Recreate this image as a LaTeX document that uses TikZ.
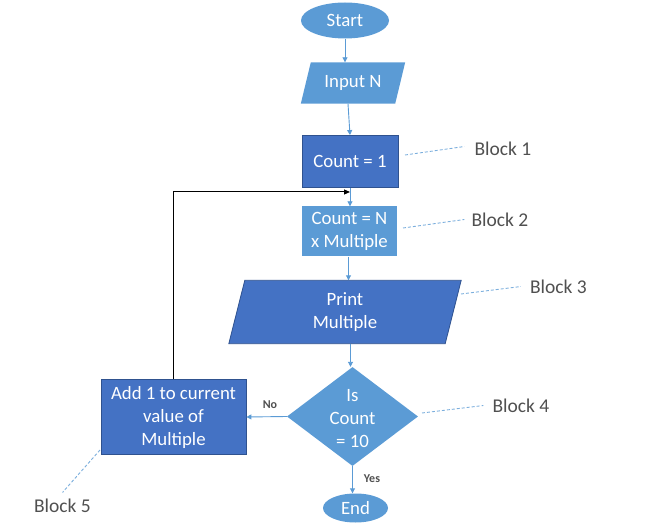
\documentclass[tikz,border=0pt]{standalone}
\usepackage{fontspec}
\setmainfont{Carlito}
\usetikzlibrary{arrows.meta,shapes.geometric,backgrounds}
\definecolor{lblue}{HTML}{5B9BD5}
\definecolor{dblue}{HTML}{4472C4}
\definecolor{bord}{HTML}{2F528F}
\definecolor{lbltext}{HTML}{505050}
\begin{document}
\begin{tikzpicture}[x=1pt,y=-1pt,
  txt/.style={text=white,font=\fontsize{18.8}{23}\selectfont,align=center,inner sep=0pt},
  darkbox/.style={txt,rectangle,fill=dblue,draw=bord,line width=0.8pt},
  term/.style={txt,ellipse,fill=lblue},
  conn/.style={draw=lblue,line width=0.9pt,-{Triangle[length=5pt,width=5pt]}},
  loopline/.style={draw=black,line width=1pt,-{Triangle[length=6pt,width=5pt]}},
  callout/.style={draw=lblue!80,dashed,dash pattern=on 3pt off 2pt,line width=0.9pt},
  blocklbl/.style={text=lbltext,font=\fontsize{19.5}{21}\selectfont,inner sep=0pt},
  yn/.style={text=lbltext,font=\fontsize{12}{13}\selectfont\bfseries,inner sep=0pt}
]
\useasboundingbox (0,0) rectangle (646,532);
% nodes
\node[term,minimum width=88pt,minimum height=36pt] (start) at (345,20.5) {Start};
\node[txt,minimum width=104pt,minimum height=41pt] (input) at (353,83) {Input N};
\node[darkbox,minimum width=96pt,minimum height=52pt] (count) at (350,161.5) {Count = 1};
\node[txt,rectangle,fill=lblue,minimum width=95pt,minimum height=50pt] (countn) at (349.5,231.5) {Count = N\\x Multiple};
\node[txt,minimum width=232pt,minimum height=63pt] (print) at (345,312) {Print\\Multiple};
\node[diamond,fill=lblue,inner sep=0pt,minimum width=131pt,minimum height=99pt] (dec) at (352.5,416.5) {};
\node[txt] (dectext) at (352.5,418.5) {Is\\Count\\= 10};
\node[darkbox,minimum width=145pt,minimum height=75pt] (add) at (173.5,417) {Add 1 to current\\value of\\Multiple};
\node[term,minimum width=65pt,minimum height=29pt] (end) at (355.5,508) {End};
% parallelogram bodies
\begin{scope}[on background layer]
\fill[lblue] ([xshift=10pt]input.north west) -- (input.north east) -- ([xshift=-10pt]input.south east) -- (input.south west) -- cycle;
\filldraw[fill=dblue,draw=bord,line width=0.8pt] ([xshift=16pt]print.north west) -- (print.north east) -- ([xshift=-16pt]print.south east) -- (print.south west) -- cycle;
\end{scope}
% labels
\node[blocklbl] (b1) at (503,148.5) {Block 1};
\node[blocklbl] (b2) at (500,219.5) {Block 2};
\node[blocklbl] (b3) at (558.5,286.5) {Block 3};
\node[blocklbl] (b4) at (521,405.5) {Block 4};
\node[blocklbl] (b5) at (62.5,505.5) {Block 5};
\node[yn] (no) at (270,404.5) {No};
\node[yn] (yes) at (372,479) {Yes};
% connectors
\draw[conn] (start.south) -- (start.south |- input.north);
\draw[conn] ([xshift=-2pt]count.north |- input.south) -- (count.north);
\draw[conn] (count.south) -- (count.south |- countn.north);
\draw[conn] ([xshift=-1pt]countn.south) -- ([xshift=-1pt]countn.south |- print.north);
\draw[conn] ([xshift=-2pt]dec.north |- print.south) -- ([xshift=-2pt]dec.north);
\draw[conn] (dec.west) -- (add.east);
\draw[conn] (dec.south) -- (dec.south |- end.north);
\coordinate (join) at (350,192);
\draw[loopline] (add.north) |- (join);
% callouts
\coordinate (c1) at (405,155);
\coordinate (c2) at (403,228);
\coordinate (c3) at (461,294);
\coordinate (c4) at (422,413);
\coordinate (c5) at (100,450);
\draw[callout] (c1) -- ([xshift=-10pt,yshift=2pt]b1.west);
\draw[callout] (c2) -- ([xshift=-7pt]b2.west);
\draw[callout] (c3) -- ([xshift=-9pt]b3.west);
\draw[callout] (c4) -- ([xshift=-9pt]b4.west);
\draw[callout] (c5) -- ([yshift=6pt]b5.north);
\end{tikzpicture}
\end{document}
